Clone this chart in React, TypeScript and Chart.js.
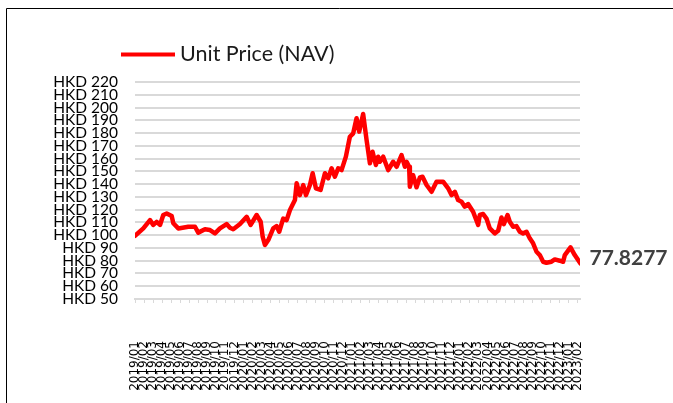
import React, { useEffect, useRef } from "react";
import { Chart, registerables } from "chart.js";

Chart.register(...registerables);

// Month offsets from 2019/01 (x) and NAV values (y)
const navMonths = [
  0.0, 0.92, 1.66, 2.02, 2.4, 2.77, 3.13, 3.51, 4.06, 4.24, 4.79, 5.9, 6.64, 7.0,
  7.74, 8.3, 8.85, 9.4, 10.14, 10.51, 10.87, 11.62, 12.36, 12.8, 13.46, 13.91,
  14.13, 14.38, 14.75, 15.3, 15.67, 15.96, 16.4, 16.78, 17.15, 17.7, 17.89, 18.25,
  18.62, 18.92, 19.36, 19.66, 20.02, 20.54, 21.02, 21.38, 21.76, 22.12, 22.49,
  22.86, 23.34, 23.78, 24.15, 24.52, 24.81, 25.25, 25.63, 26.0, 26.29, 26.66,
  26.91, 27.1, 27.47, 28.02, 28.57, 28.95, 29.5, 29.87, 30.06, 30.34, 30.42,
  30.78, 31.16, 31.53, 31.82, 32.27, 32.82, 33.37, 34.1, 34.66, 35.03, 35.4,
  35.76, 36.14, 36.5, 36.87, 37.42, 37.98, 38.16, 38.53, 38.9, 39.27, 39.82,
  40.19, 40.56, 40.82, 41.23, 41.48, 41.85, 42.22, 42.59, 42.95, 43.33, 43.69,
  44.06, 44.44, 44.8, 45.17, 45.54, 46.09, 46.46, 47.01, 47.38, 47.57, 48.2,
  48.67, 49.3,
];
const navValues = [
  99.5, 105.3, 111.8, 108, 110.5, 108, 115.8, 117, 115, 109.3, 105.3, 106.6,
  106.6, 102, 104.6, 104, 101.4, 105.3, 108.7, 105.8, 104.6, 108.7, 114.4, 108,
  115.8, 110.5, 98.8, 92.3, 96.2, 105.3, 107.1, 102.7, 113, 111.8, 119.7, 127.5,
  140.6, 131.4, 139.3, 131.4, 139.3, 148.5, 136.7, 135.4, 148.5, 144.5, 152.4,
  145.8, 152.4, 151, 161.5, 177.1, 179.8, 191.6, 181.1, 194.9, 174.5, 156.3,
  165.4, 155, 161.5, 157.5, 161.5, 151, 157.5, 153.6, 162.8, 153.6, 157.5,
  153.6, 138, 147.1, 137.5, 145.3, 145.8, 139.3, 134, 141.9, 141.9, 136.7,
  131.4, 134, 127.5, 126.2, 122.3, 124.4, 118.4, 108, 115.8, 116.6, 113, 105.3,
  101.4, 103.4, 113.9, 108.7, 115.8, 110.5, 106.6, 107.1, 102.7, 101.4, 102.7,
  97.5, 93.6, 87, 84.4, 79.2, 78.4, 79.2, 81, 80, 79.2, 84.4, 90.4, 84.4, 77.8277,
];

const monthLabels = [
  "2019/01", "2019/02", "2019/03", "2019/04", "2019/05", "2019/06", "2019/07",
  "2019/08", "2019/09", "2019/10", "2019/11", "2019/12",
  "2020/01", "2020/02", "2020/03", "2020/04", "2020/05", "2020/06", "2020/07",
  "2020/08", "2020/09", "2020/10", "2020/11", "2020/12",
  "2021/01", "2021/02", "2021/03", "2021/04", "2021/05", "2021/06", "2021/07",
  "2021/08", "2021/09", "2021/10", "2021/11", "2021/12",
  "2022/01", "2022/02", "2022/03", "2022/04", "2022/05", "2022/06", "2022/07",
  "2022/08", "2022/09", "2022/10", "2022/11", "2022/12",
  "2023/01", "2023/02",
];

const seriesName = "Unit Price (NAV)";
const lastValueLabel = "77.8277";
const yMin = 50;
const yMax = 220;
const yStep = 10;
const currencyPrefix = "HKD ";

const decorPlugin = {
  id: "decor",
  afterDraw(chart: any) {
    const ctx = chart.ctx as CanvasRenderingContext2D;
    ctx.save();
    // outer frame (left & top)
    ctx.strokeStyle = "#000";
    ctx.lineWidth = 1;
    ctx.beginPath();
    ctx.moveTo(6.5, 403);
    ctx.lineTo(6.5, 8.5);
    ctx.lineTo(673, 8.5);
    ctx.stroke();
    // legend
    ctx.strokeStyle = "#ff0000";
    ctx.lineWidth = 4;
    ctx.beginPath();
    ctx.moveTo(121, 54.5);
    ctx.lineTo(175, 54.5);
    ctx.stroke();
    ctx.fillStyle = "#1a1a1a";
    ctx.font = "21.5px Lato";
    ctx.textBaseline = "middle";
    ctx.textAlign = "left";
    ctx.fillText(seriesName, 180, 54);
    // end value label
    const meta = chart.getDatasetMeta(0);
    const last = meta.data[meta.data.length - 1];
    if (last) {
      ctx.font = "bold 21px Lato";
      ctx.fillStyle = "#404040";
      ctx.fillText(lastValueLabel, last.x + 9, last.y - 5);
    }
    ctx.restore();
  },
};

export default function App() {
  const ref = useRef<HTMLCanvasElement | null>(null);

  useEffect(() => {
    if (!ref.current) return;
    const chart = new Chart(ref.current, {
      type: "line",
      data: {
        datasets: [
          {
            label: seriesName,
            data: navMonths.map((m, i) => ({ x: m, y: navValues[i] })),
            borderColor: "#ff0000",
            backgroundColor: "#ff0000",
            borderWidth: 4.5,
            pointRadius: 0,
            tension: 0,
            borderJoinStyle: "round",
            borderCapStyle: "round",
          },
        ],
      },
      options: {
        animation: false,
        responsive: false,
        devicePixelRatio: 1,
        layout: { padding: { left: 0, right: 93, top: 82, bottom: 0 } },
        plugins: { legend: { display: false }, tooltip: { enabled: false } },
        scales: {
          x: {
            type: "linear",
            min: 0,
            max: 49.25,
            afterFit: (s: any) => {
              s.height = 104;
            },
            afterBuildTicks: (s: any) => {
              s.ticks = monthLabels.map((_, i) => ({ value: i }));
            },
            ticks: {
              autoSkip: false,
              maxRotation: 90,
              minRotation: 90,
              padding: 38,
              color: "#000",
              font: { family: "DejaVu Sans", size: 12 },
              callback: (v: any) => monthLabels[v] ?? "",
            },
            grid: {
              drawOnChartArea: false,
              drawTicks: true,
              tickLength: 4,
              color: "#d9d9d9",
              lineWidth: 1,
            },
            border: { display: true, color: "#d9d9d9", width: 2 },
          },
          y: {
            min: yMin,
            max: yMax,
            afterFit: (s: any) => {
              s.width = 135;
            },
            ticks: {
              stepSize: yStep,
              autoSkip: false,
              padding: 17,
              color: "#000",
              font: { family: "Lato", size: 15.5, lineHeight: 1 },
              callback: (v: any) => currencyPrefix + v,
            },
            grid: { color: "#d9d9d9", lineWidth: 2, drawTicks: false },
            border: { display: false },
          },
        },
      },
      plugins: [decorPlugin],
    });
    return () => chart.destroy();
  }, []);

  return (
    <div style={{ position: "fixed", left: 0, top: 0, width: 673, height: 403, background: "#fff" }}>
      <canvas ref={ref} width={673} height={403} style={{ display: "block" }} />
    </div>
  );
}
